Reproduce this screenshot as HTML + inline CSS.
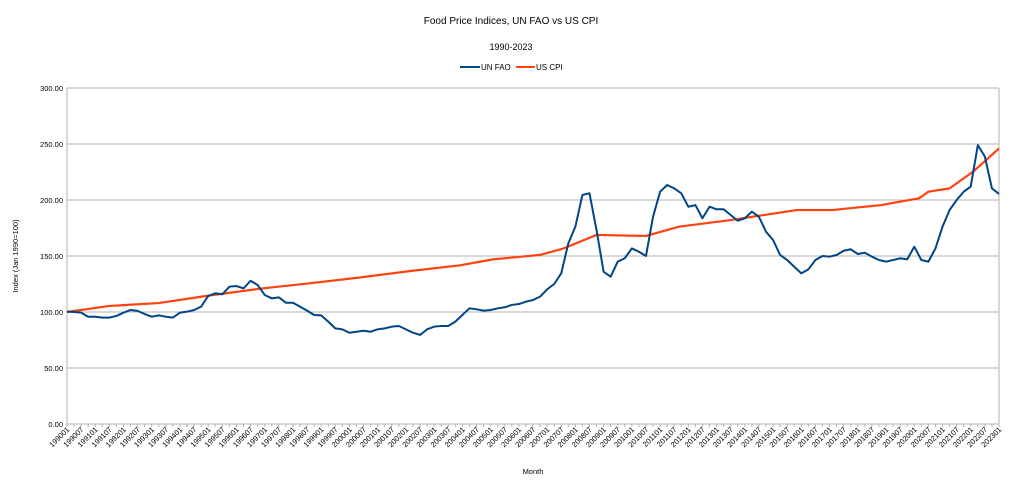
<!DOCTYPE html>
<html><head><meta charset="utf-8"><style>
body{margin:0;background:#fff;font-family:"Liberation Sans",sans-serif}
svg text{font-family:"Liberation Sans",sans-serif;fill:#000}
</style></head><body>
<svg id="c" width="1023" height="489" xmlns="http://www.w3.org/2000/svg">
<text x="511" y="24" font-size="10" text-anchor="middle">Food Price Indices, UN FAO vs US CPI</text>
<text x="511" y="50" font-size="9" text-anchor="middle">1990-2023</text>
<g>
<g><line x1="460" y1="67" x2="480" y2="67" stroke="#004586" stroke-width="2"/><text x="481" y="70" font-size="8">UN FAO</text></g>
<g><line x1="516" y1="67" x2="535" y2="67" stroke="#ff420e" stroke-width="2"/><text x="536" y="70" font-size="8">US CPI</text></g>
</g>
<text transform="translate(18,256) rotate(-90)" font-size="7.5" text-anchor="middle">Index (Jan 1990=100)</text>
<text x="533" y="474" font-size="7.5" text-anchor="middle">Month</text>
<g id="grid"></g><g id="xl"></g><g id="series"></g>
</svg>
<script>
const yTicks=[0,50,100,150,200,250,300];
const xTickYears=[];for(let y=1990;y<=2023;y++){xTickYears.push(y);}
const faoValues=[100.3,100,99.4,95.8,95.8,95,95,96.5,99.4,101.8,101,98.2,95.8,97,95.8,95,99.4,100.3,101.8,104.8,114.3,116.7,115.8,122.6,123.2,121.1,127.9,124.1,115.2,112.2,113.1,108.3,108.3,104.8,101.2,97.3,97,91.4,85.4,84.5,81.5,82.4,83.3,82.4,84.5,85.4,86.9,87.5,84.5,81.5,79.5,84.5,86.9,87.5,87.5,91.4,97.3,103.3,102.4,101.2,101.8,103.3,104.2,106.3,107.1,109.2,
110.7,113.7,120.2,125,134.5,161.3,176.2,204.5,206,173,136,131.5,145,148,156.8,153.8,150,185,207.4,213.4,210.4,206,194,195.5,183.7,194,191.7,191.7,186.6,181.5,183.7,189.6,185,171.7,164.3,150.9,146.4,140.4,134.5,138.1,146.4,150,149.4,150.9,154.7,156,151.8,152.9,149.4,146.4,145,146.4,148,147,158.3,146.4,145,156.8,176.2,191,200,207.4,212,249,238.7,210.4,205.4];
const faoStep=3;
const cpiMonths=[0,18,39,59,82,103,124,146,167,181,201,211,225,246,260,282,310,325,346,362,366,375,385,396];
const cpiValues=[100,105.4,108,114.3,120.8,125.6,130.7,136.6,141.7,147,151,156.8,168.8,167.9,176.2,182.1,191,191,195.5,201.5,207.4,210.4,225.3,246];
const L=67,R=999,Y0=424,K=1.12,NM=396;
const xs=m=>L+(R-L)*m/NM, ys=v=>Y0-v*K;
const NS="http://www.w3.org/2000/svg";
function mk(t,a,p){const e=document.createElementNS(NS,t);for(const k in a)e.setAttribute(k,a[k]);p.appendChild(e);return e;}
const g=document.getElementById('grid');
yTicks.forEach(v=>{
 const l=mk('line',{x1:L,x2:R,y1:ys(v),y2:ys(v),stroke:'#b3b3b3','stroke-width':1},g);
 
 
 const t=mk('text',{x:L-4,y:ys(v)+3,'font-size':7.5,'text-anchor':'end'},g);
 t.textContent=v.toFixed(2);
 
 
});
mk('line',{x1:L,x2:L,y1:ys(300),y2:Y0,stroke:'#b3b3b3'},g);
mk('line',{x1:R,x2:R,y1:ys(300),y2:Y0,stroke:'#b3b3b3'},g);
for(let m=0;m<=NM;m+=3){mk('line',{x1:xs(m),x2:xs(m),y1:Y0,y2:Y0+3,stroke:'#b3b3b3'},g);}
const xl=document.getElementById('xl');
xTickYears.forEach(y=>{[1,7].forEach(mo=>{
 const m=(y-1990)*12+mo-1; if(m>NM)return;
 const x=xs(m);
 const t=mk('text',{transform:`translate(${x+3},${Y0+6}) rotate(-45)`,'font-size':7.5,'text-anchor':'end'},xl);
 t.textContent=y+(mo<10?'0':'')+mo;
 
 
});});
const s=document.getElementById('series');
const cp=mk('polyline',{points:cpiMonths.map((m,i)=>xs(m)+','+ys(cpiValues[i])).join(' '),fill:'none',stroke:'#ff420e','stroke-width':2.2,'stroke-linejoin':'round'},s);


const fp=mk('polyline',{points:faoValues.map((v,i)=>xs(i*faoStep)+','+ys(v)).join(' '),fill:'none',stroke:'#004586','stroke-width':2,'stroke-linejoin':'round'},s);


</script>
</body></html>
